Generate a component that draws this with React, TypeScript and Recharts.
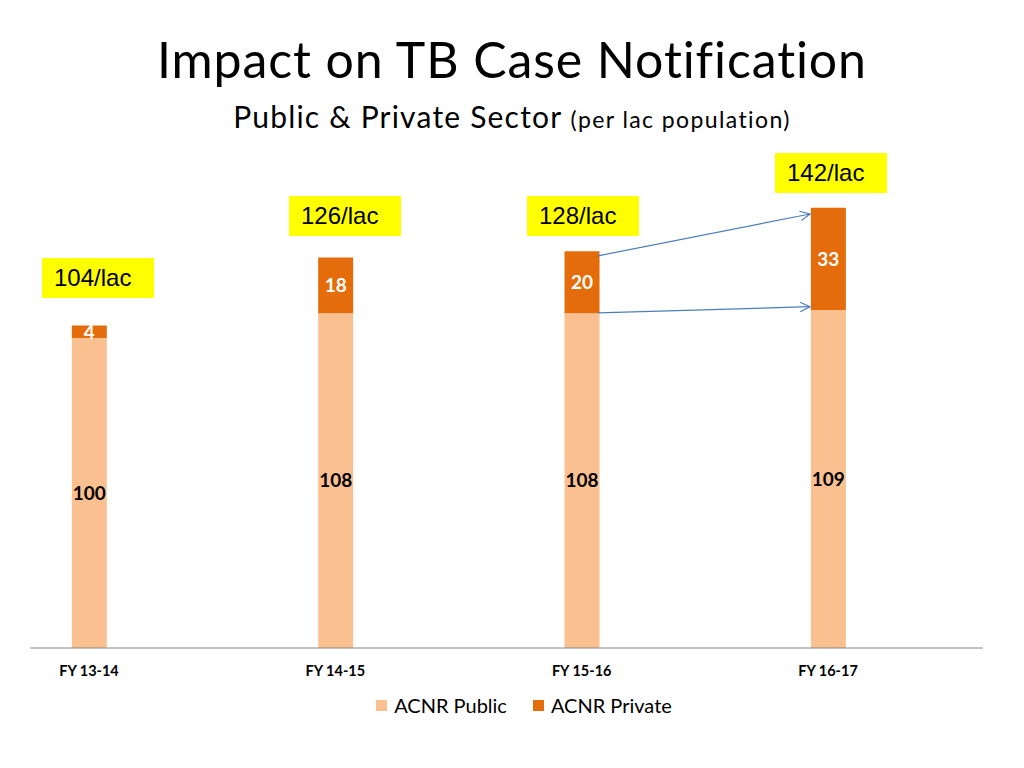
import React from 'react';
import { BarChart, Bar, XAxis, YAxis, LabelList, ReferenceLine } from 'recharts';

// chart values
const categories = ['FY 13-14', 'FY 14-15', 'FY 15-16', 'FY 16-17'];
const acnrPublic = [100, 108, 108, 109];
const acnrPrivate = [4, 18, 20, 33];

const PUBLIC_COLOR = '#FAC090';
const PRIVATE_COLOR = '#E46C0A';
const CALIBRI = 'Lato, "Open Sans", sans-serif';

const data = categories.map((name, i) => ({
  idx: i,
  name,
  pub: acnrPublic[i],
  priv: acnrPrivate[i],
}));

// yellow total callouts (layout only; text comes from the data)
const calloutPos = [
  { left: 42, top: 258 },
  { left: 289, top: 196 },
  { left: 527, top: 196 },
  { left: 775, top: 153 },
];

// arrows from FY 15-16 to FY 16-17, in data units
const arrows = [
  [{ x: 2.066, y: 126.5 }, { x: 2.927, y: 140 }],
  [{ x: 2.066, y: 108.1 }, { x: 2.927, y: 110.1 }],
];

const ArrowShape = (p: any) => {
  const { x1, y1, x2, y2 } = p;
  const ang = Math.atan2(y2 - y1, x2 - x1);
  const len = 11;
  const spread = 0.45;
  const ax = x2 - len * Math.cos(ang - spread);
  const ay = y2 - len * Math.sin(ang - spread);
  const bx = x2 - len * Math.cos(ang + spread);
  const by = y2 - len * Math.sin(ang + spread);
  return (
    <g>
      <line x1={x1} y1={y1} x2={x2} y2={y2} stroke="#4A7EBB" strokeWidth={1.2} />
      <polyline points={`${ax},${ay} ${x2},${y2} ${bx},${by}`} fill="none" stroke="#4A7EBB" strokeWidth={1.2} />
    </g>
  );
};

export default function App() {
  return (
    <div style={{ position: 'absolute', left: 0, top: 0, width: 1024, height: 768, background: '#fff', overflow: 'hidden' }}>
      <div style={{ position: 'absolute', left: 0, width: 1024, top: 28, textAlign: 'center', fontFamily: CALIBRI, fontSize: 50, letterSpacing: 0.9, color: '#000', lineHeight: '62px' }}>
        Impact on TB Case Notification
      </div>
      <div style={{ position: 'absolute', left: 0, width: 1024, top: 97, textAlign: 'center', fontFamily: CALIBRI, color: '#000', lineHeight: '38px' }}>
        <span style={{ fontSize: 30, letterSpacing: 1.2 }}>Public &amp; Private Sector </span>
        <span style={{ fontSize: 23, letterSpacing: 1.4 }}>(per lac population)</span>
      </div>

      <BarChart
        width={1024}
        height={768}
        data={data}
        margin={{ top: 152, right: 41, bottom: 90, left: 30 }}
      >
        <XAxis
          dataKey="idx"
          type="number"
          domain={[-0.2395, 3.629]}
          ticks={[0, 1, 2, 3]}
          allowDataOverflow
          tickFormatter={(v: number) => categories[v]}
          height={30}
          tickSize={0}
          tickMargin={18}
          axisLine={{ stroke: '#868686', strokeWidth: 1 }}
          tick={{ fill: '#000', fontSize: 14.5, fontWeight: 700, fontFamily: CALIBRI }}
        />
        <YAxis hide domain={[0, 160]} />
        <Bar dataKey="pub" stackId="a" fill={PUBLIC_COLOR} barSize={35} isAnimationActive={false}>
          <LabelList dataKey="pub" position="center" fill="#000" fontSize={19} fontWeight={700} fontFamily={CALIBRI} />
        </Bar>
        <Bar dataKey="priv" stackId="a" fill={PRIVATE_COLOR} barSize={35} isAnimationActive={false}>
          <LabelList dataKey="priv" position="center" fill="#fff" fontSize={19} fontWeight={700} fontFamily={CALIBRI} />
        </Bar>
        {arrows.map((seg, i) => (
          <ReferenceLine key={i} segment={seg} shape={ArrowShape} ifOverflow="visible" />
        ))}
      </BarChart>

      {data.map((d, i) => (
        <div
          key={d.name}
          style={{
            position: 'absolute',
            left: calloutPos[i].left,
            top: calloutPos[i].top,
            width: 112,
            height: 40,
            background: '#FFFF00',
            fontFamily: '"Liberation Sans", Arial, sans-serif',
            fontSize: 24,
            lineHeight: '40px',
            paddingLeft: 12,
            boxSizing: 'border-box',
            color: '#000',
          }}
        >
          {d.pub + d.priv}/lac
        </div>
      ))}

      <div style={{ position: 'absolute', left: 12, width: 1024, top: 693, display: 'flex', justifyContent: 'center', fontFamily: CALIBRI, fontSize: 20, color: '#000' }}>
        {[['ACNR Public', PUBLIC_COLOR], ['ACNR Private', PRIVATE_COLOR]].map(([label, color]) => (
          <div key={label} style={{ display: 'flex', alignItems: 'center', margin: '0 13px' }}>
            <span style={{ display: 'inline-block', width: 11, height: 11, background: color, marginRight: 7 }} />
            <span>{label}</span>
          </div>
        ))}
      </div>
    </div>
  );
}
